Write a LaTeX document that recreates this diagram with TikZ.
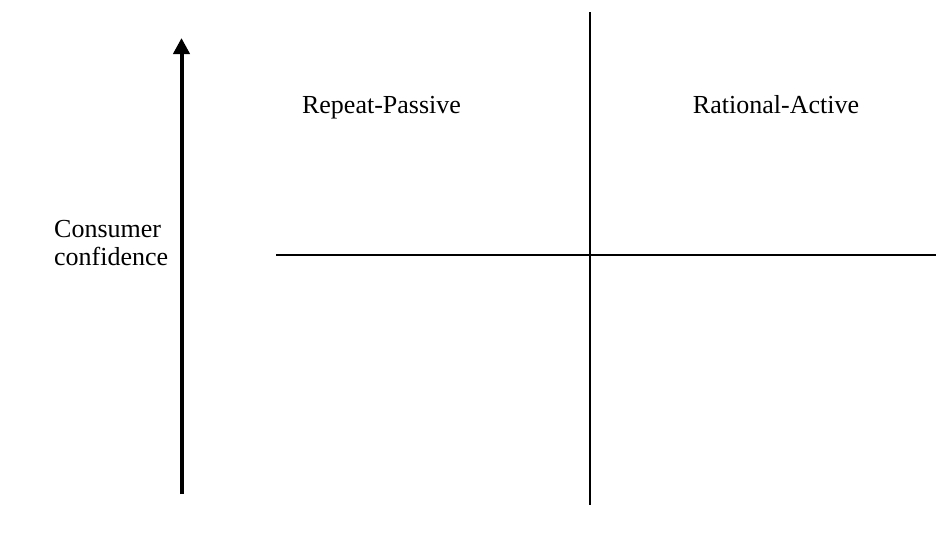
\documentclass[tikz,border=0pt]{standalone}
\usepackage{fontspec}
\setmainfont{Liberation Serif}
\usetikzlibrary{arrows.meta}
\begin{document}
\begin{tikzpicture}[x=1pt,y=-1pt,
  axisline/.style={line width=2pt},
  confarrow/.style={line width=4pt,-{Triangle[width=16pt,length=16pt]}},
  label/.style={font=\fontsize{26}{28}\selectfont,inner sep=0pt}]
  \useasboundingbox[fill=white] (0,0) rectangle (936,533);
  % quadrant axes
  \coordinate (vtop) at (589.5,12);
  \coordinate (vbot) at (589.5,505);
  \coordinate (hleft) at (276,254.5);
  \coordinate (hright) at (936,254.5);
  \draw[axisline] (vtop) -- (vbot);
  \draw[axisline] (hleft) -- (hright);
  % confidence arrow
  \coordinate (abot) at (181.5,494);
  \coordinate (atop) at (181.5,38);
  \draw[confarrow] (abot) -- (atop);
  % quadrant labels
  \node[label,anchor=base] (rp) at (381.5,113) {Repeat-Passive};
  \node[label,anchor=base] (ra) at (776,113) {Rational-Active};
  % axis label (base anchor sits on the last line)
  \node[label,align=left,anchor=base west] (cc) at (54,265) {Consumer\\confidence};
\end{tikzpicture}
\end{document}
